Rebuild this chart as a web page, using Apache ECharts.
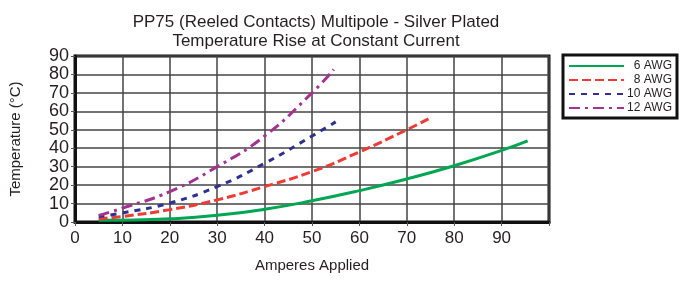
<!DOCTYPE html>
<html>
<head>
<meta charset="utf-8">
<script src="https://cdn.jsdelivr.net/npm/echarts@6/dist/echarts.min.js"></script>
<style>
  html, body { margin: 0; padding: 0; background: #fff; }
  #chart { width: 686px; height: 287px; }
</style>
</head>
<body>
<div id="chart"></div>
<script>
// values
var amps6 = [5, 10, 20, 30, 40, 50, 60, 70, 80, 90, 95.5];
var temp6 = [1, 1, 1.7, 3.6, 6.9, 11.5, 17, 23.3, 30.5, 38.8, 44];
var amps8 = [5, 10, 20, 30, 40, 50, 60, 70, 75];
var temp8 = [1.8, 3, 6.7, 12, 19.2, 27.3, 38, 50, 56.5];
var amps10 = [5, 10, 20, 30, 40, 50, 55];
var temp10 = [3, 4.9, 10.3, 19.2, 31.8, 46.6, 54.3];
var amps12 = [5, 10, 20, 30, 40, 50, 54.6];
var temp12 = [3.6, 7.5, 16.5, 30, 46.6, 70, 82.7];
var names = ['6 AWG', '8 AWG', '10 AWG', '12 AWG'];

function pairs(xs, ys) {
    var out = [];
    for (var i = 0; i < xs.length; i++) {
        out.push([xs[i], ys[i]]);
    }
    return out;
}

var font = 'Liberation Sans, Arial, sans-serif';
var myChart = echarts.init(document.getElementById('chart'));
myChart.setOption({
    animation: false,
    title: {
        text: 'PP75 (Reeled Contacts) Multipole - Silver Plated\nTemperature Rise at Constant Current',
        left: 311,
        top: 8,
        textAlign: 'center',
        textStyle: {
            fontFamily: font,
            fontSize: 17,
            fontWeight: 'normal',
            color: '#231f20',
            lineHeight: 19
        }
    },
    legend: {
        orient: 'vertical',
        left: 563,
        top: 55,
        itemWidth: 55,
        itemHeight: 11,
        itemGap: 2,
        padding: [5, 5, 4, 5],
        borderColor: '#111',
        borderWidth: 3,
        data: names,
        itemStyle: { opacity: 0 },
        formatter: function (name) { return '{t|' + name + '}'; },
        textStyle: {
            fontFamily: font,
            fontSize: 12,
            color: '#231f20',
            rich: {
                t: { width: 43, lineHeight: 11, align: 'right', fontFamily: font, fontSize: 12, color: '#231f20' }
            }
        }
    },
    grid: {
        left: 73,
        top: 56,
        right: 137,
        bottom: 65,
        show: true,
        borderColor: '#111',
        borderWidth: 3
    },
    xAxis: {
        type: 'value',
        min: 0,
        max: 100,
        interval: 10,
        name: 'Amperes Applied',
        nameLocation: 'middle',
        nameGap: 36,
        nameTextStyle: { fontFamily: font, fontSize: 15, color: '#231f20' },
        axisLine: { show: true, lineStyle: { color: '#111', width: 3 } },
        axisTick: { show: true, length: 4, lineStyle: { color: '#555' } },
        axisLabel: {
            fontFamily: font,
            fontSize: 17,
            color: '#231f20',
            margin: 8,
            formatter: function (v) { return v === 100 ? '' : v; }
        },
        splitLine: { show: true, lineStyle: { color: '#444', width: 1.5 } }
    },
    yAxis: {
        type: 'value',
        min: 0,
        max: 90,
        interval: 10,
        name: 'Temperature (°C)',
        nameLocation: 'middle',
        nameGap: 52,
        nameTextStyle: { fontFamily: font, fontSize: 15, color: '#231f20' },
        axisLine: { show: true, lineStyle: { color: '#111', width: 3 } },
        axisTick: { show: true, length: 4, lineStyle: { color: '#555' } },
        axisLabel: {
            fontFamily: font,
            fontSize: 18,
            color: '#231f20',
            margin: 6
        },
        splitLine: { show: true, lineStyle: { color: '#444', width: 1.5 } }
    },
    series: [
        {
            name: names[0],
            type: 'line',
            smooth: true,
            symbol: 'none',
            color: '#00a651',
            lineStyle: { width: 3, type: 'solid' },
            data: pairs(amps6, temp6)
        },
        {
            name: names[1],
            type: 'line',
            smooth: true,
            symbol: 'none',
            color: '#ee3b35',
            lineStyle: { width: 3, type: [9, 4] },
            data: pairs(amps8, temp8)
        },
        {
            name: names[2],
            type: 'line',
            smooth: true,
            symbol: 'none',
            color: '#2e3192',
            lineStyle: { width: 3, type: [6, 6] },
            data: pairs(amps10, temp10)
        },
        {
            name: names[3],
            type: 'line',
            smooth: true,
            symbol: 'none',
            color: '#a3338f',
            lineStyle: { width: 3, type: [11, 5, 3, 5] },
            data: pairs(amps12, temp12)
        }
    ]
});
</script>
</body>
</html>
